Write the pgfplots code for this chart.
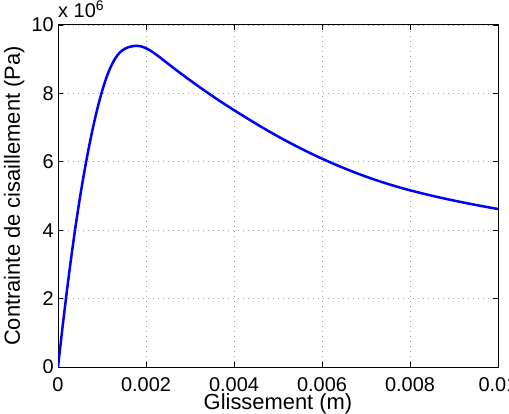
\documentclass[border=0pt]{standalone}
\usepackage{fontspec}
\setmainfont{Liberation Sans}
\usepackage{pgfplots}
\pgfplotsset{compat=1.18}
\begin{document}
\begin{tikzpicture}
\begin{axis}[
  scale only axis,
  width=440bp, height=342bp,
  xmin=0, xmax=0.01, ymin=0, ymax=10,
  clip mode=individual,
  xtick={0,0.002,0.004,0.006,0.008,0.01},
  xticklabels={0,0.002,0.004,0.006,0.008,0.01},
  ytick={0,2,4,6,8,10},
  yticklabels={0,2,4,6,8,10},
  scaled x ticks=false, scaled y ticks=false,
  /pgf/number format/assume math mode=true,
  tick label style={font=\fontsize{20}{24}\selectfont},
  xticklabel style={anchor=base, inner sep=0pt, yshift=-24bp},
  yticklabel style={anchor=east, inner sep=0pt, xshift=-4bp},
  major tick length=5bp,
  tick align=inside,
  tick style={black, line width=0.8bp},
  axis line style={black, line width=1bp},
  grid=major,
  grid style={gray!70, line width=0.8bp, dash pattern=on 1bp off 4bp},
  xlabel={Glissement (m)},
  ylabel={Contrainte de cisaillement (Pa)},
  label style={font=\fontsize{22}{26}\selectfont},
  xlabel style={at={(axis description cs:0.5,-0.1257)}, anchor=base, inner sep=0pt},
  ylabel style={at={(axis description cs:-0.0864,0.5)}, anchor=base, inner sep=0pt},
]
\addplot[blue, line width=2.5bp, smooth, tension=0.5] coordinates {
(0,0) (0.0001,1.13) (0.0002,2.20) (0.0003,3.20) (0.0004,4.12)
(0.0005,4.96) (0.0006,5.72) (0.0007,6.41) (0.0008,7.03) (0.0009,7.58)
(0.001,8.06) (0.0011,8.46) (0.0012,8.78) (0.0013,9.02) (0.0014,9.19)
(0.0015,9.29) (0.0016,9.35) (0.0017,9.38) (0.0018,9.39) (0.0019,9.37)
(0.002,9.32) (0.0021,9.25) (0.0022,9.165) (0.0023,9.07) (0.0024,8.97)
(0.0025,8.87) (0.0026,8.77) (0.0027,8.67) (0.0028,8.575) (0.0029,8.48)
(0.003,8.385) (0.0032,8.20) (0.0034,8.02) (0.0036,7.845) (0.0038,7.675)
(0.004,7.51) (0.0042,7.35) (0.0044,7.192) (0.0046,7.037) (0.0048,6.887)
(0.005,6.742) (0.0052,6.602) (0.0054,6.467) (0.0056,6.337) (0.0058,6.212)
(0.006,6.092) (0.0062,5.977) (0.0064,5.867) (0.0066,5.762) (0.0068,5.662)
(0.007,5.567) (0.0072,5.477) (0.0074,5.392) (0.0076,5.312) (0.0078,5.237)
(0.008,5.167) (0.0082,5.101) (0.0084,5.038) (0.0086,4.978) (0.0088,4.921)
(0.009,4.866) (0.0092,4.813) (0.0094,4.762) (0.0096,4.713) (0.0098,4.666)
(0.01,4.621)
};
\node[anchor=base west, inner sep=0pt, font=\fontsize{20}{24}\selectfont]
  at (axis description cs:0,1) [yshift=7bp] {x 10\textsuperscript{6}};
\end{axis}
\pgfresetboundingbox
\path[use as bounding box] (-58bp,-47bp) rectangle (451bp,367bp);
\end{tikzpicture}
\end{document}
